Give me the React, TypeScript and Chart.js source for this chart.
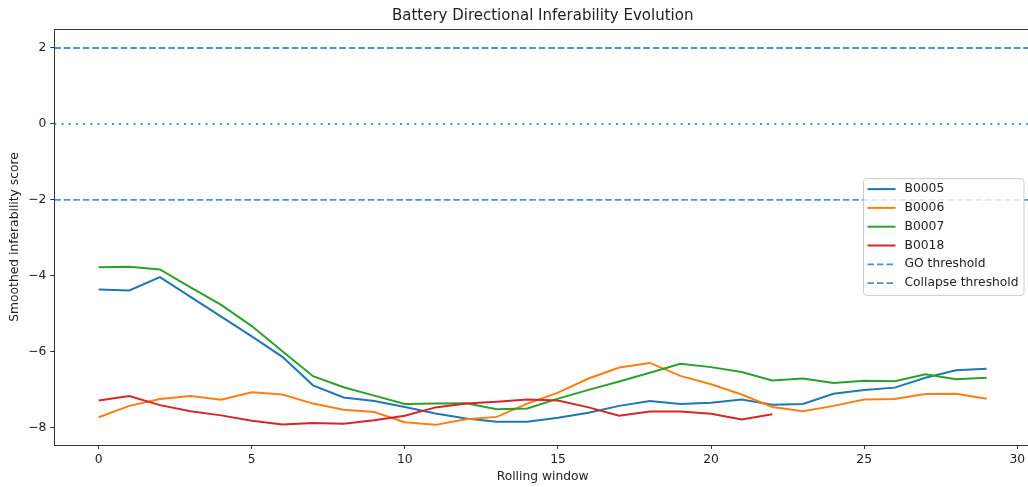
import React, { useEffect, useRef } from "react";
import { Chart, registerables } from "chart.js";

Chart.register(...registerables);

const chartTitle = "Battery Directional Inferability Evolution";
const xAxisTitle = "Rolling window";
const yAxisTitle = "Smoothed inferability score";

const windowIndex = [0, 1, 2, 3, 4, 5, 6, 7, 8, 9, 10, 11, 12, 13, 14, 15, 16, 17, 18, 19, 20, 21, 22, 23, 24, 25, 26, 27, 28, 29];

const b0005 = [-4.36, -4.38, -4.03, -4.55, -5.07, -5.59, -6.13, -6.88, -7.2, -7.29, -7.45, -7.62, -7.75, -7.84, -7.84, -7.73, -7.6, -7.42, -7.29, -7.37, -7.34, -7.25, -7.39, -7.37, -7.1, -7.0, -6.94, -6.68, -6.48, -6.44];
const b0006 = [-7.72, -7.42, -7.24, -7.16, -7.26, -7.06, -7.12, -7.36, -7.52, -7.58, -7.85, -7.92, -7.77, -7.71, -7.36, -7.07, -6.7, -6.41, -6.29, -6.63, -6.85, -7.12, -7.45, -7.56, -7.42, -7.25, -7.24, -7.11, -7.1, -7.23];
const b0007 = [-3.77, -3.76, -3.83, -4.3, -4.76, -5.32, -5.98, -6.64, -6.93, -7.15, -7.37, -7.36, -7.35, -7.51, -7.49, -7.23, -7.0, -6.78, -6.55, -6.31, -6.4, -6.53, -6.75, -6.7, -6.82, -6.76, -6.77, -6.59, -6.72, -6.68];
const b0018 = [-7.28, -7.16, -7.4, -7.56, -7.67, -7.81, -7.91, -7.87, -7.89, -7.8, -7.68, -7.46, -7.36, -7.31, -7.25, -7.28, -7.46, -7.68, -7.57, -7.57, -7.63, -7.78, -7.64];

const goThreshold = 2;
const neutralLevel = 0;
const collapseThreshold = -2;

const xLimits = [-1.45, 30.45];
const yLimits = [-8.45, 2.5];
const xTickValues = [0, 5, 10, 15, 20, 25, 30];
const yTickValues = [-8, -6, -4, -2, 0, 2];

const FONT = "'DejaVu Sans', 'Liberation Sans', sans-serif";
const FS = 12.3;
const THRESH = "rgba(31,119,180,0.8)";

const toPoints = (vals: number[]) => vals.map((v, i) => ({ x: windowIndex[i], y: v }));
const hLine = (y: number) => [
  { x: xLimits[0], y },
  { x: xLimits[1], y },
];

const framePlugin = {
  id: "mplFrame",
  afterDraw(chart: any) {
    const { ctx, chartArea } = chart;
    ctx.save();
    ctx.strokeStyle = "#333";
    ctx.lineWidth = 1;
    ctx.beginPath();
    ctx.moveTo(chartArea.left, chartArea.top + 0.5);
    ctx.lineTo(chartArea.right, chartArea.top + 0.5);
    ctx.moveTo(chartArea.right - 0.5, chartArea.top);
    ctx.lineTo(chartArea.right - 0.5, chartArea.bottom);
    ctx.stroke();
    ctx.font = `15px ${FONT}`;
    ctx.fillStyle = "#222";
    ctx.textAlign = "center";
    ctx.textBaseline = "middle";
    ctx.fillText(chartTitle, (chartArea.left + chartArea.right) / 2, 16);
    ctx.restore();
  },
};

const legendPlugin = {
  id: "mplLegend",
  afterDraw(chart: any) {
    const { ctx, chartArea } = chart;
    const items = chart.data.datasets.filter((d: any) => d.label);
    const rowH = 18.8;
    const w = 160.5;
    const h = items.length * rowH + 4;
    const x = chartArea.right - 7 - w;
    const y = (chartArea.top + chartArea.bottom) / 2 - h / 2;
    ctx.save();
    const r = 3;
    ctx.beginPath();
    ctx.moveTo(x + r, y);
    ctx.lineTo(x + w - r, y);
    ctx.arcTo(x + w, y, x + w, y + r, r);
    ctx.lineTo(x + w, y + h - r);
    ctx.arcTo(x + w, y + h, x + w - r, y + h, r);
    ctx.lineTo(x + r, y + h);
    ctx.arcTo(x, y + h, x, y + h - r, r);
    ctx.lineTo(x, y + r);
    ctx.arcTo(x, y, x + r, y, r);
    ctx.closePath();
    ctx.fillStyle = "rgba(255,255,255,0.8)";
    ctx.fill();
    ctx.strokeStyle = "#cccccc";
    ctx.lineWidth = 1;
    ctx.stroke();
    ctx.font = `${FS}px ${FONT}`;
    ctx.textBaseline = "middle";
    ctx.textAlign = "left";
    items.forEach((d: any, i: number) => {
      const ry = y + 10.5 + i * rowH;
      ctx.beginPath();
      ctx.setLineDash(d.borderDash || []);
      ctx.strokeStyle = d.borderColor;
      ctx.lineWidth = d.borderWidth;
      ctx.moveTo(x + 4, ry);
      ctx.lineTo(x + 32, ry);
      ctx.stroke();
      ctx.setLineDash([]);
      ctx.fillStyle = "#222";
      ctx.fillText(d.label, x + 41, ry);
    });
    ctx.restore();
  },
};

export default function App() {
  const ref = useRef<HTMLCanvasElement | null>(null);
  useEffect(() => {
    if (!ref.current) return;
    const lineDs = (label: string, vals: number[], color: string, order: number) => ({
      label,
      data: toPoints(vals),
      borderColor: color,
      backgroundColor: color,
      borderWidth: 2,
      pointRadius: 0,
      tension: 0,
      fill: false,
      order,
    });
    const chart = new Chart(ref.current, {
      type: "line",
      data: {
        datasets: [
          lineDs("B0005", b0005, "#1f77b4", 5),
          lineDs("B0006", b0006, "#ff7f0e", 4),
          lineDs("B0007", b0007, "#2ca02c", 3),
          lineDs("B0018", b0018, "#d62728", 2),
          {
            label: "GO threshold",
            data: hLine(goThreshold),
            borderColor: THRESH,
            borderWidth: 1.8,
            borderDash: [6.5, 3],
            pointRadius: 0,
            order: 1,
          },
          {
            label: "",
            data: hLine(neutralLevel),
            borderColor: THRESH,
            borderWidth: 1.8,
            borderDash: [2, 5.2],
            pointRadius: 0,
            order: 1,
          },
          {
            label: "Collapse threshold",
            data: hLine(collapseThreshold),
            borderColor: THRESH,
            borderWidth: 1.8,
            borderDash: [6.5, 3],
            pointRadius: 0,
            order: 1,
          },
        ] as any,
      },
      options: {
        animation: false,
        responsive: false,
        devicePixelRatio: 1,
        parsing: false as any,
        normalized: true,
        layout: { padding: { left: 0, right: 3, top: 29, bottom: 0 } },
        plugins: {
          legend: { display: false },
          tooltip: { enabled: false },
          title: { display: false },
        },
        scales: {
          x: {
            type: "linear",
            min: xLimits[0],
            max: xLimits[1],
            afterBuildTicks: (s: any) => {
              s.ticks = xTickValues.map((v) => ({ value: v }));
            },
            afterFit: (s: any) => {
              s.height = 42;
            },
            grid: { display: true, drawOnChartArea: false, drawTicks: true, tickLength: 4, tickColor: "#333", lineWidth: 1 },
            border: { display: true, color: "#333", width: 1 },
            ticks: {
              color: "#222",
              padding: 3,
              maxRotation: 0,
              autoSkip: false,
              font: { family: FONT, size: FS },
              callback: (v: any) => String(v).replace("-", "\u2212"),
            },
            title: {
              display: true,
              text: xAxisTitle,
              color: "#222",
              font: { family: FONT, size: FS, lineHeight: 1.2 },
              padding: { top: 0, bottom: 3 },
            },
          },
          y: {
            type: "linear",
            min: yLimits[0],
            max: yLimits[1],
            afterBuildTicks: (s: any) => {
              s.ticks = yTickValues.map((v) => ({ value: v }));
            },
            afterFit: (s: any) => {
              s.width = 54.3;
            },
            grid: { display: true, drawOnChartArea: false, drawTicks: true, tickLength: 4, tickColor: "#333", lineWidth: 1 },
            border: { display: true, color: "#333", width: 1 },
            ticks: {
              color: "#222",
              padding: 4,
              autoSkip: false,
              font: { family: FONT, size: FS },
              callback: (v: any) => String(v).replace("-", "\u2212"),
            },
            title: {
              display: true,
              text: yAxisTitle,
              color: "#222",
              font: { family: FONT, size: FS, lineHeight: 1.2 },
              padding: { top: 7.8, bottom: 0 },
            },
          },
        },
      },
      plugins: [framePlugin, legendPlugin],
    });
    return () => chart.destroy();
  }, []);
  return (
    <div style={{ position: "fixed", left: 0, top: 0, width: 1028, height: 487, overflow: "hidden", background: "#fff" }}>
      <canvas ref={ref} width={1034} height={487} style={{ display: "block", width: 1034, height: 487 }} />
    </div>
  );
}
